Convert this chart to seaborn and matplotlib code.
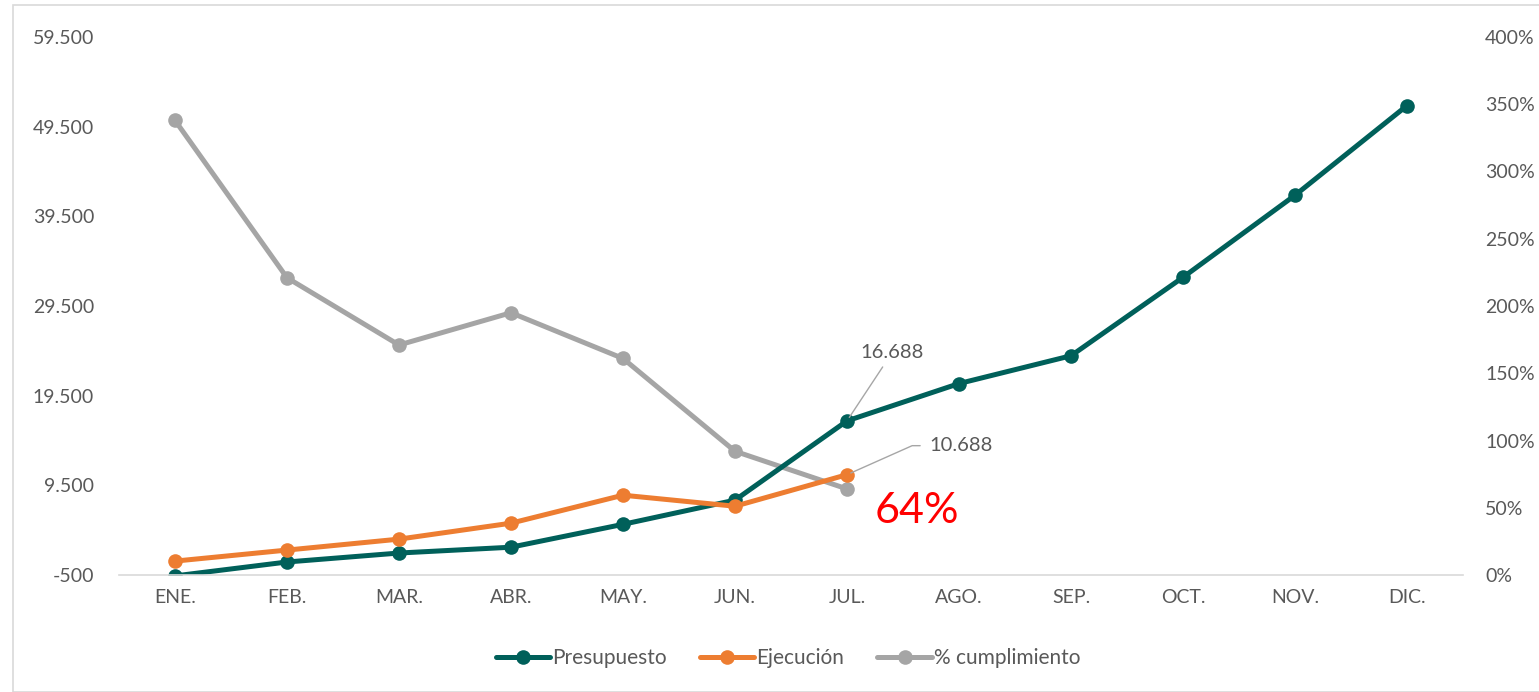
import numpy as np
import pandas as pd
import matplotlib
matplotlib.use("Agg")
import matplotlib.pyplot as plt
from matplotlib.patches import Rectangle
from matplotlib.ticker import FuncFormatter, MultipleLocator, FixedLocator
import seaborn as sns

meses = ["ENE.", "FEB.", "MAR.", "ABR.", "MAY.", "JUN.", "JUL.",
         "AGO.", "SEP.", "OCT.", "NOV.", "DIC."]
presupuesto = [-600, 950, 1950, 2600, 5150, 7850, 16688,
               20850, 23950, 32700, 41850, 51850]
ejecucion = [1050, 2280, 3500, 5280, 8400, 7170, 10688]
cumplimiento = [3.38, 2.21, 1.71, 1.95, 1.61, 0.92, 0.64]
ticks_izq = [-500, 9500, 19500, 29500, 39500, 49500, 59500]

c_pres = "#00605A"
c_ejec = "#ED7D31"
c_cump = "#A5A5A5"
c_text = "#595959"

sns.set_style("white")
plt.rcParams["font.family"] = ["Lato", "DejaVu Sans"]

df = pd.DataFrame({"mes": meses, "x": np.arange(len(meses)), "Presupuesto": presupuesto})
df_e = pd.DataFrame({"x": np.arange(len(ejecucion)), "Ejecución": ejecucion})
df_c = pd.DataFrame({"x": np.arange(len(cumplimiento)), "cump": cumplimiento})

fig = plt.figure(figsize=(15.39, 6.92), dpi=100)
fig.patches.append(Rectangle((13 / 1539, 0), 1, 687 / 692, transform=fig.transFigure,
                             fill=False, edgecolor="#D9D9D9", lw=1.2))
ax = fig.add_axes([119 / 1539, 117 / 692, 1344 / 1539, 538 / 692])
ax2 = ax.twinx()

line_kw = dict(marker="o", markersize=10.5, linewidth=3.6, markeredgewidth=0)
sns.lineplot(data=df_c, x="x", y="cump", ax=ax2, color=c_cump, label="% cumplimiento", **line_kw)
sns.lineplot(data=df, x="x", y="Presupuesto", ax=ax, color=c_pres, label="Presupuesto", **line_kw)
sns.lineplot(data=df_e, x="x", y="Ejecución", ax=ax, color=c_ejec, label="Ejecución", **line_kw)

ax.set_zorder(ax2.get_zorder() + 1)
ax.patch.set_visible(False)

ax.set_xlim(-0.5, len(meses) - 0.5)
ax.set_ylim(ticks_izq[0], ticks_izq[-1])
ax.yaxis.set_major_locator(FixedLocator(ticks_izq))
ax.yaxis.set_major_formatter(FuncFormatter(lambda v, p: f"{v:,.0f}".replace(",", ".")))
ax2.set_ylim(0, 4)
ax2.yaxis.set_major_locator(MultipleLocator(0.5))
ax2.yaxis.set_major_formatter(FuncFormatter(lambda v, p: f"{v * 100:.0f}%"))

ax.set_xticks(df["x"])
ax.set_xticklabels(meses)
ax.set_xlabel("")
ax.set_ylabel("")
ax2.set_ylabel("")

for a in (ax, ax2):
    for s in a.spines.values():
        s.set_visible(False)
    a.tick_params(length=0, labelsize=14, labelcolor=c_text)
ax.spines["bottom"].set_visible(True)
ax.spines["bottom"].set_color("#D9D9D9")
ax.spines["bottom"].set_linewidth(1.2)
ax.tick_params(axis="x", pad=10)
ax.tick_params(axis="y", pad=18)
ax2.tick_params(axis="y", pad=16)

# etiquetas de datos
ax.annotate(f"{presupuesto[6]:,}".replace(",", "."), xy=(6, presupuesto[6]),
            xytext=(45, 68), textcoords="offset pixels", ha="center", va="center",
            fontsize=14.5, color=c_text,
            arrowprops=dict(arrowstyle="-", color="#A6A6A6", lw=1, shrinkA=2, shrinkB=3))
ax.annotate(f"{ejecucion[6]:,}".replace(",", "."), xy=(6, ejecucion[6]),
            xytext=(82, 29), textcoords="offset pixels", ha="left", va="center",
            fontsize=14.5, color=c_text,
            arrowprops=dict(arrowstyle="-", color="#A6A6A6", lw=1, shrinkA=4, shrinkB=3,
                            relpos=(0, 0.5),
                            connectionstyle="angle,angleA=0,angleB=24,rad=0"))
ax2.annotate(f"{cumplimiento[6] * 100:.0f}%", xy=(6, cumplimiento[6]),
             xytext=(70, -22), textcoords="offset pixels", ha="center", va="center",
             fontsize=31, color="#FF0000")

ax.get_legend().remove()
ax2.get_legend().remove()
h1, l1 = ax.get_legend_handles_labels()
h2, l2 = ax2.get_legend_handles_labels()
leg = fig.legend(h1 + h2, l1 + l2, loc="center", bbox_to_anchor=(788 / 1539, 34 / 692), ncol=3,
                 frameon=False, fontsize=15, handlelength=2.6, handletextpad=0.1,
                 columnspacing=1.6)
for t in leg.get_texts():
    t.set_color(c_text)

fig.savefig("out.png", dpi=100)
